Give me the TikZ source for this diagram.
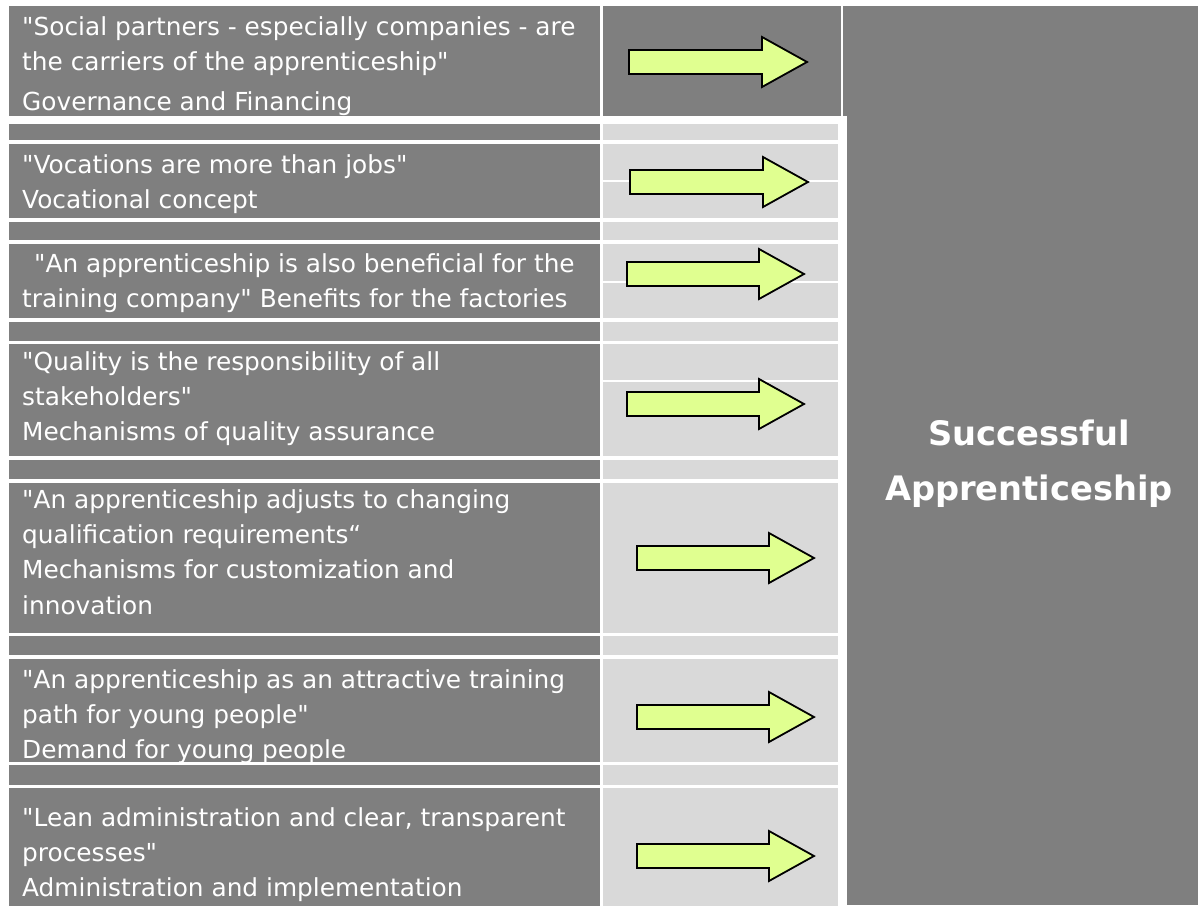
\documentclass[tikz,border=0pt]{standalone}
\usepackage{fontspec}
\setmainfont{DejaVu Sans}[Ligatures=TeXOff]
\definecolor{panel}{HTML}{7F7F7F}
\definecolor{cellbg}{HTML}{D9D9D9}
\definecolor{arrowfill}{RGB}{224,255,144}
\begin{document}
\begin{tikzpicture}[x=1pt,y=-1pt,
  dark/.style={fill=panel},
  light/.style={fill=cellbg},
  splitline/.style={draw=white, line width=2pt},
  rowtext/.style={anchor=north west, inner sep=0pt, align=left, text=white,
    font=\fontsize{24.8}{35.3}\selectfont},
  goaltext/.style={anchor=north, inner sep=0pt, align=center, text=white,
    font=\fontsize{33.7}{55}\selectfont\bfseries},
  fatarrow/.style={fill=arrowfill, draw=black, line width=1.8pt, line join=miter}]
\useasboundingbox (0,0) rectangle (1198,905);
\clip (0,0) rectangle (1198,905);
\fill[white] (0,0) rectangle (1198,905);

% right-hand result panel
\fill[dark] (843,6) rectangle (1198,905);
% white frame of the lower table, lying over the panel's edge
\fill[white] (9,116) rectangle (847,905);

% first row: both cells dark
\fill[dark] (9,6) rectangle (600,116);
\fill[dark] (603,6) rectangle (841,116);

% remaining rows: dark text cell, light arrow cell
\foreach \top/\bot in {124/140, 144/218, 222/240, 244/318, 322/341,
    344/456, 460/479, 483/633, 636/655, 659/762, 765/785, 788/910} {
  \fill[dark] (9,\top) rectangle (600,\bot);
  \fill[light] (603,\top) rectangle (838,\bot);
}
% thin splits inside some arrow cells
\foreach \y in {181, 282, 381} {
  \draw[splitline] (603,\y) -- (847,\y);
}

% arrows
\foreach \l/\b/\t/\y in {629/762/807/62, 630/763/808/182, 627/759/804/274,
    627/759/804/404, 637/769/814/558, 637/769/814/717, 637/769/814/856} {
  \draw[fatarrow] (\l,\y-12) -- (\b,\y-12) -- (\b,\y-25) -- (\t,\y)
    -- (\b,\y+25) -- (\b,\y+12) -- (\l,\y+12) -- cycle;
}

% row texts (north = first baseline - strut height)
\node[rowtext] (gov) at (22,35-24.7) {\strut"Social partners - especially companies - are\\
  the carriers of the apprenticeship"\\[5pt]Governance and Financing};
\node[rowtext] (voc) at (22,173-24.7) {\strut"Vocations are more than jobs"\\Vocational concept};
\node[rowtext] (ben) at (22,272-24.7) {\strut\hspace*{12pt}"An apprenticeship is also beneficial for the\\
  training company" Benefits for the factories};
\node[rowtext] (qual) at (22,370-24.7) {\strut"Quality is the responsibility of all\\
  stakeholders"\\Mechanisms of quality assurance};
\node[rowtext] (innov) at (22,508-24.7) {\strut"An apprenticeship adjusts to changing\\
  qualification requirements“\\Mechanisms for customization and\\innovation};
\node[rowtext] (dem) at (22,688-24.7) {\strut"An apprenticeship as an attractive training\\
  path for young people"\\Demand for young people};
\node[rowtext] (adm) at (22,826-24.7) {\strut"Lean administration and clear, transparent\\
  processes"\\Administration and implementation};

% result
\node[goaltext] (goal) at (1029,445-38.5) {\strut Successful\\Apprenticeship};
\end{tikzpicture}
\end{document}
